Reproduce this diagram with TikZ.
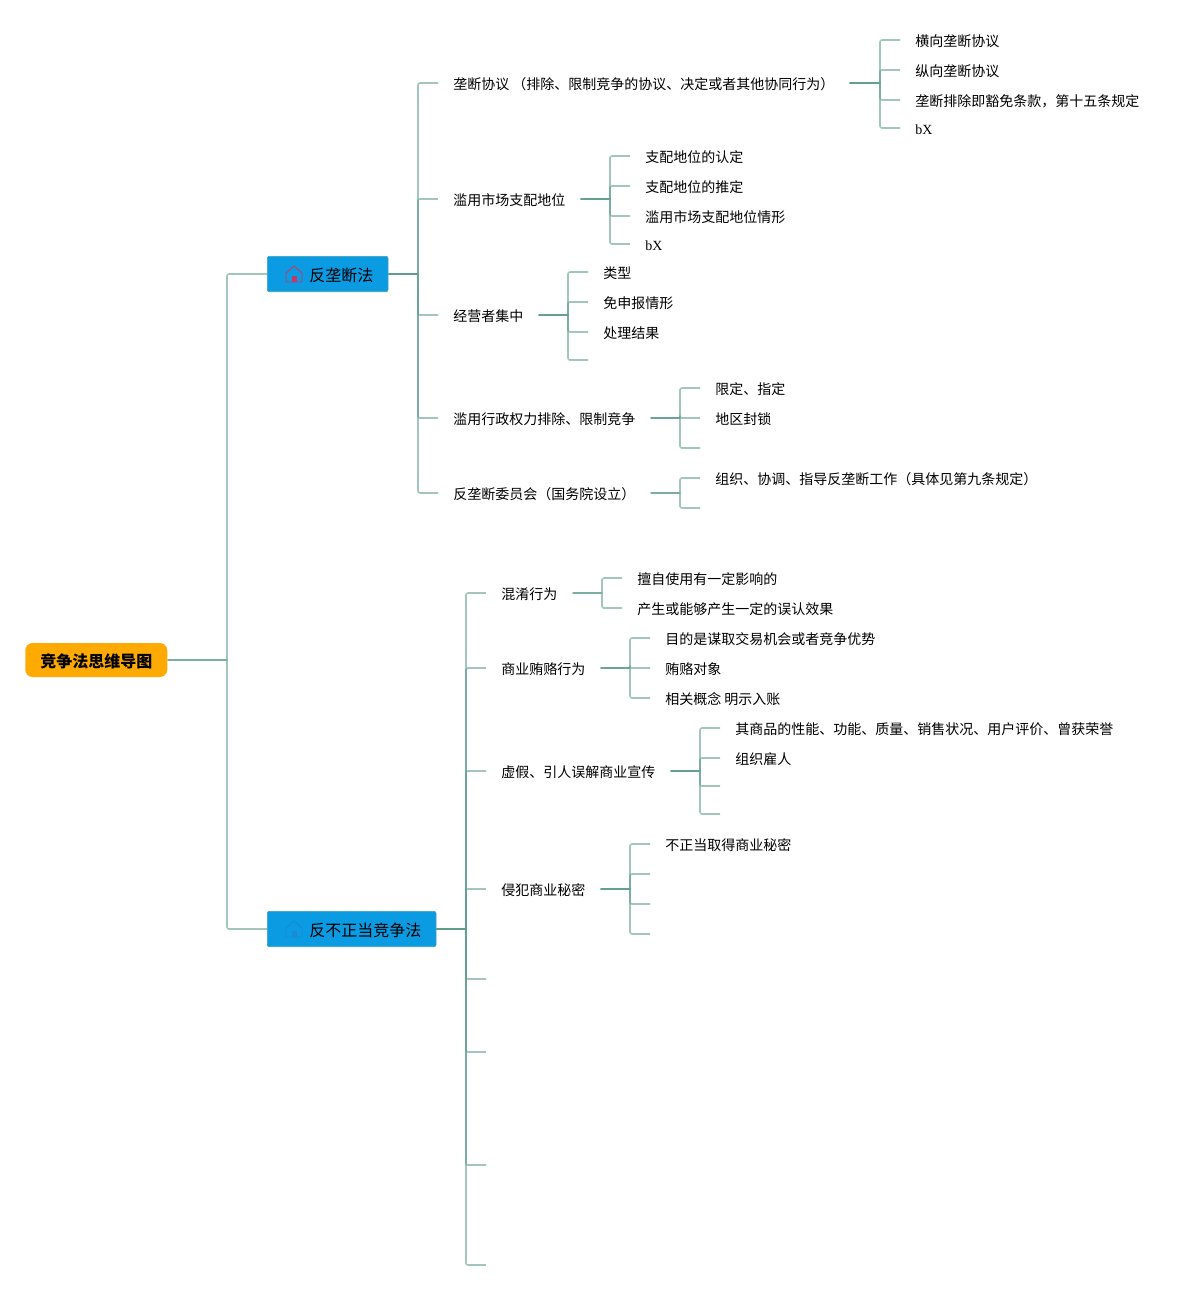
\documentclass[tikz,border=0pt]{standalone}
\usepackage{fontspec}
\setmainfont{Noto Sans CJK SC}
\newfontfamily\latinserif{Liberation Serif}
\definecolor{linecol}{HTML}{5F9C8C}
\definecolor{topicfill}{HTML}{0A9BE2}
\definecolor{topicline}{HTML}{3F9FB0}
\definecolor{rootfill}{HTML}{FFAA00}
\definecolor{iconred}{HTML}{C23A6A}
\definecolor{iconblue}{HTML}{1A8AD4}
\tikzset{
  br/.style={draw=linecol,draw opacity=.58,line width=1.2pt,line join=round},
  leaf/.style={anchor=west,inner xsep=11.25pt,inner ysep=0pt,font=\fontsize{10.5pt}{12pt}\selectfont,text height=11.8pt,text depth=1.5pt},
  root/.style={anchor=west,fill=rootfill,rounded corners=5.5pt,inner xsep=0pt,inner ysep=0pt,minimum width=106.5pt,minimum height=25.5pt,font=\fontsize{12pt}{14pt}\selectfont\bfseries,text height=12.1pt,text depth=1.5pt},
  topic/.style={anchor=west,fill=topicfill,draw=topicline,line width=.5pt,rounded corners=1.5pt,inner xsep=0pt,inner ysep=0pt,minimum height=26.5pt,font=\fontsize{12pt}{14pt}\selectfont,text height=12.1pt,text depth=1.5pt},
}
\newcommand{\brn}[3]{\draw[br] (#1.east) -- (#2) [rounded corners=1.5pt] |- (#3);}
\newcommand{\house}[3]{%
  \draw[draw=#3,line width=.7pt,line join=round] (#1-8,#2+8) -- (#1-8,#2-1) -- (#1,#2-8) -- (#1+8,#2-1) -- (#1+8,#2+8) -- cycle;
  \fill[#3] (#1-2.5,#2+8) rectangle (#1+2.5,#2+2);}
\begin{document}
\begin{tikzpicture}[x=0.75pt,y=-0.75pt]
\useasboundingbox (0,0) rectangle (1199,1290);
% junctions
\coordinate (jr) at (227,660);
\coordinate (jA) at (418,274);
\coordinate (jB) at (466,929);
\coordinate (ja1) at (880,83);
\coordinate (ja2) at (610,199);
\coordinate (ja3) at (568,315);
\coordinate (ja4) at (680,418);
\coordinate (ja5) at (680,493);
\coordinate (jb1) at (602,593);
\coordinate (jb2) at (630,668);
\coordinate (jb3) at (700,771);
\coordinate (jb4) at (630,889);
% main nodes
\node[root] (root) at (25,660) {竞争法思维导图};
\node[topic] (A) at (267,274) {\hspace*{31.5pt}反垄断法\hspace*{11pt}};
\node[topic] (B) at (267,929) {\hspace*{31.5pt}反不正当竞争法\hspace*{11pt}};
\house{294}{274}{iconred}
\house{294}{929}{iconblue}
% anti-monopoly branches
\node[leaf] (a1) at (438,83) {垄断协议 （排除、限制竞争的协议、决定或者其他协同行为）};
\node[leaf] (a2) at (438,199) {滥用市场支配地位};
\node[leaf] (a3) at (438,315) {经营者集中};
\node[leaf] (a4) at (438,418) {滥用行政权力排除、限制竞争};
\node[leaf] (a5) at (438,493) {反垄断委员会（国务院设立）};
\node[leaf] (a11) at (900,40) {横向垄断协议};
\node[leaf] (a12) at (900,70) {纵向垄断协议};
\node[leaf] (a13) at (900,100) {垄断排除即豁免条款，第十五条规定};
\node[leaf] (a14) at (900,128) {\latinserif bX};
\node[leaf] (a21) at (630,156) {支配地位的认定};
\node[leaf] (a22) at (630,186) {支配地位的推定};
\node[leaf] (a23) at (630,216) {滥用市场支配地位情形};
\node[leaf] (a24) at (630,244) {\latinserif bX};
\node[leaf] (a31) at (588,272) {类型};
\node[leaf] (a32) at (588,302) {免申报情形};
\node[leaf] (a33) at (588,332) {处理结果};
\coordinate (a34) at (588,360);
\node[leaf] (a41) at (700,388) {限定、指定};
\node[leaf] (a42) at (700,418) {地区封锁};
\coordinate (a43) at (700,448);
\node[leaf] (a51) at (700,478) {组织、协调、指导反垄断工作（具体见第九条规定）};
\coordinate (a52) at (700,508);
% unfair competition branches
\node[leaf] (b1) at (486,593) {混淆行为};
\node[leaf] (b2) at (486,668) {商业贿赂行为};
\node[leaf] (b3) at (486,771) {虚假、引人误解商业宣传};
\node[leaf] (b4) at (486,889) {侵犯商业秘密};
\coordinate (b5) at (486,979);
\coordinate (b6) at (486,1052);
\coordinate (b7) at (486,1165);
\coordinate (b8) at (486,1265);
\node[leaf] (b11) at (622,578) {擅自使用有一定影响的};
\node[leaf] (b12) at (622,608) {产生或能够产生一定的误认效果};
\node[leaf] (b21) at (650,638) {目的是谋取交易机会或者竞争优势};
\node[leaf] (b22) at (650,668) {贿赂对象};
\node[leaf] (b23) at (650,698) {相关概念 明示入账};
\node[leaf] (b31) at (720,728) {其商品的性能、功能、质量、销售状况、用户评价、曾获荣誉};
\node[leaf] (b32) at (720,758) {组织雇人};
\coordinate (b33) at (720,786);
\coordinate (b34) at (720,814);
\node[leaf] (b41) at (650,844) {不正当取得商业秘密};
\coordinate (b42) at (650,874);
\coordinate (b43) at (650,904);
\coordinate (b44) at (650,934);
% connectors
\brn{root}{jr}{A.west}
\brn{root}{jr}{B.west}
\brn{A}{jA}{a1.west}
\brn{A}{jA}{a2.west}
\brn{A}{jA}{a3.west}
\brn{A}{jA}{a4.west}
\brn{A}{jA}{a5.west}
\brn{a1}{ja1}{a11.west}
\brn{a1}{ja1}{a12.west}
\brn{a1}{ja1}{a13.west}
\brn{a1}{ja1}{a14.west}
\brn{a2}{ja2}{a21.west}
\brn{a2}{ja2}{a22.west}
\brn{a2}{ja2}{a23.west}
\brn{a2}{ja2}{a24.west}
\brn{a3}{ja3}{a31.west}
\brn{a3}{ja3}{a32.west}
\brn{a3}{ja3}{a33.west}
\brn{a3}{ja3}{a34}
\brn{a4}{ja4}{a41.west}
\brn{a4}{ja4}{a42.west}
\brn{a4}{ja4}{a43}
\brn{a5}{ja5}{a51.west}
\brn{a5}{ja5}{a52}
\brn{B}{jB}{b1.west}
\brn{B}{jB}{b2.west}
\brn{B}{jB}{b3.west}
\brn{B}{jB}{b4.west}
\brn{B}{jB}{b5}
\brn{B}{jB}{b6}
\brn{B}{jB}{b7}
\brn{B}{jB}{b8}
\brn{b1}{jb1}{b11.west}
\brn{b1}{jb1}{b12.west}
\brn{b2}{jb2}{b21.west}
\brn{b2}{jb2}{b22.west}
\brn{b2}{jb2}{b23.west}
\brn{b3}{jb3}{b31.west}
\brn{b3}{jb3}{b32.west}
\brn{b3}{jb3}{b33}
\brn{b3}{jb3}{b34}
\brn{b4}{jb4}{b41.west}
\brn{b4}{jb4}{b42}
\brn{b4}{jb4}{b43}
\brn{b4}{jb4}{b44}
\end{tikzpicture}
\end{document}
